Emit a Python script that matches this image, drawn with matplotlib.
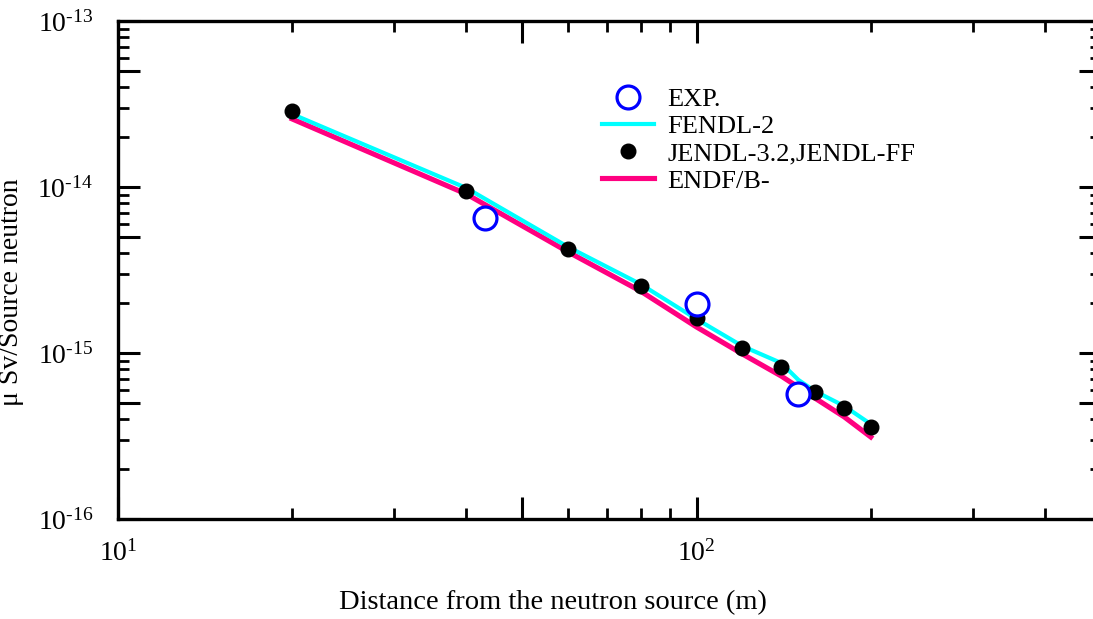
import numpy as np
import matplotlib
matplotlib.use("Agg")
from matplotlib import pyplot as plt
from matplotlib.ticker import FixedLocator, FixedFormatter, LogLocator, NullFormatter

# ################ Data. ################ #

# Measured points (open circles).
exp_x = [43, 100, 150]
exp_y = [6.5e-15, 1.97e-15, 5.66e-16]

# JENDL-3.2,JENDL-FF (black dots).
jendl_x = [20, 40, 60, 80, 100, 120, 140, 160, 180, 200]
jendl_y = [2.87e-14, 9.46e-15, 4.23e-15, 2.53e-15, 1.625e-15,
           1.072e-15, 8.24e-16, 5.82e-16, 4.67e-16, 3.58e-16]

# FENDL-2 (cyan line).
fendl_x = [20, 40, 60, 80, 100, 120, 140, 150, 160, 180, 200]
fendl_y = [2.75e-14, 9.86e-15, 4.35e-15, 2.60e-15, 1.60e-15,
           1.10e-15, 8.71e-16, 6.88e-16, 5.90e-16, 4.79e-16, 3.73e-16]

# ENDF/B- (magenta line).
endf_x = [20, 40, 60, 80, 100, 120, 140, 160, 180, 200]
endf_y = [2.57e-14, 9.07e-15, 4.06e-15, 2.36e-15, 1.434e-15,
          9.86e-16, 7.27e-16, 5.36e-16, 4.12e-16, 3.12e-16]

# Axis ticks.
x_major = [10, 50, 100, 500]
x_major_labels = ["$10^{1}$", "", "$10^{2}$", ""]
y_major = [1e-16, 5e-16, 1e-15, 5e-15, 1e-14, 5e-14, 1e-13]
y_major_labels = ["$10^{\u201016}$", "", "$10^{\u201015}$", "",
                  "$10^{\u201014}$", "", "$10^{\u201013}$"]

legend_labels = ["EXP.", "FENDL-2", "JENDL-3.2,JENDL-FF", "ENDF/B-"]

# ################ Plot. ################ #

plt.rcParams["font.family"] = ["Liberation Serif", "DejaVu Serif"]
plt.rcParams["mathtext.fontset"] = "custom"
plt.rcParams["mathtext.rm"] = "Liberation Serif"
plt.rcParams["mathtext.it"] = "Liberation Serif:italic"

fig = plt.figure(figsize=(10.93, 6.19), dpi=100)
ax = fig.add_axes([118 / 1093, 1 - 519 / 619, (1101 - 118) / 1093, (519 - 21) / 619])

endf_line, = ax.plot(endf_x, endf_y, color="#ff0080", lw=3.7, zorder=2)
fendl_line, = ax.plot(fendl_x, fendl_y, color="#00ffff", lw=3.0, zorder=3)
jendl_pts, = ax.plot(jendl_x, jendl_y, "o", color="black", ms=10.5, zorder=4, ls="none")
exp_pts, = ax.plot(exp_x, exp_y, "o", mfc="white", mec="#0000ff", mew=2.3, ms=16.5,
                   zorder=5, ls="none")

ax.set_xscale("log")
ax.set_yscale("log")
ax.set_xlim(10, 500)
ax.set_ylim(1e-16, 1e-13)

ax.xaxis.set_major_locator(FixedLocator(x_major))
ax.xaxis.set_major_formatter(FixedFormatter(x_major_labels))
ax.yaxis.set_major_locator(FixedLocator(y_major))
ax.yaxis.set_major_formatter(FixedFormatter(y_major_labels))
ax.xaxis.set_minor_locator(LogLocator(base=10, subs=(2, 3, 4, 6, 7, 8, 9)))
ax.yaxis.set_minor_locator(LogLocator(base=10, subs=(2, 3, 4, 6, 7, 8, 9)))
ax.xaxis.set_minor_formatter(NullFormatter())
ax.yaxis.set_minor_formatter(NullFormatter())

ax.tick_params(which="both", direction="in", top=True, right=True, labelsize=20)
ax.tick_params(which="major", length=15.8, width=2.2)
ax.tick_params(which="minor", length=7.9, width=2.0)
ax.tick_params(axis="x", which="major", pad=15)
ax.tick_params(axis="y", which="major", pad=18)
for s in ax.spines.values():
    s.set_linewidth(2.4)

ax.set_xlabel("Distance from the neutron source (m)", fontsize=20.5)
ax.xaxis.set_label_coords(0.4425, -0.143)
ax.set_ylabel("\u03bc Sv/Source neutron", fontsize=20)
ax.yaxis.set_label_coords(-0.0956, 0.456)

ax.legend([exp_pts, fendl_line, jendl_pts, endf_line], legend_labels,
          loc="upper left", bbox_to_anchor=(0.492, 0.866), frameon=False,
          fontsize=19, handlelength=2.0, handletextpad=0.5, labelspacing=0.14,
          borderpad=0, borderaxespad=0, numpoints=1)

plt.savefig("out.png", dpi=100)
